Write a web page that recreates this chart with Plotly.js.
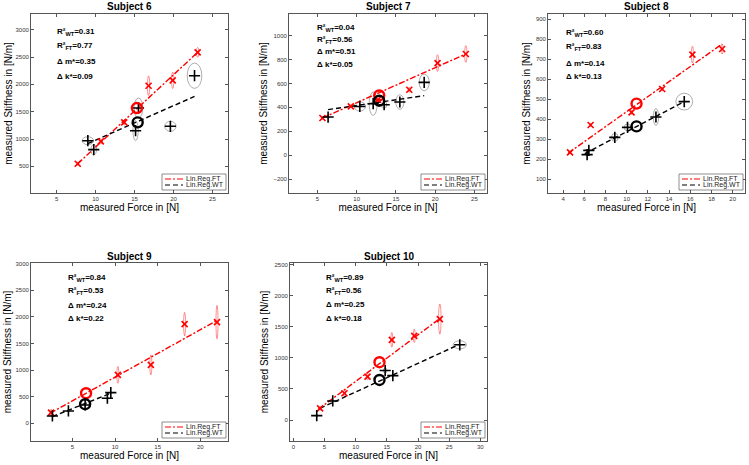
<!DOCTYPE html>
<html>
<head>
<meta charset="utf-8">
<script src="https://cdn.plot.ly/plotly-3.0.1.min.js"></script>
<style>
body { margin: 0; background: #fff; }
#chart { width: 749px; height: 465px; }
</style>
</head>
<body>
<div id="chart"></div>
<script>
var subjects = ['Subject 6', 'Subject 7', 'Subject 8', 'Subject 9', 'Subject 10'];

// FT measurements (red x) with ellipse half-widths
var ftX = [
    [7.7, 10.67, 13.67, 16.8, 19.9, 23.1],
    [5.64, 9.26, 12.7, 16.7, 20.3, 23.9],
    [4.66, 6.6, 10.46, 13.35, 16.2, 19.0],
    [2.49, 10.33, 14.2, 18.16, 21.96],
    [4.29, 8.2, 11.9, 15.8, 19.4, 23.5]
];
var ftY = [
    [548, 957, 1305, 1975, 2073, 2585],
    [311, 408, 464, 548, 771, 847],
    [233, 370, 433, 550, 722, 750],
    [201, 910, 1098, 1864, 1902],
    [188, 430, 699, 1290, 1355, 1624]
];
var ftSx = [
    [0.1, 0.12, 0.12, 0.15, 0.15, 0.15],
    [0.12, 0.12, 0.15, 0.15, 0.15, 0.15],
    [0.08, 0.08, 0.08, 0.08, 0.1, 0.1],
    [0.1, 0.12, 0.12, 0.12, 0.12],
    [0.15, 0.15, 0.15, 0.15, 0.15, 0.2]
];
var ftSy = [
    [30, 50, 50, 180, 150, 90],
    [10, 12, 20, 20, 70, 70],
    [8, 8, 10, 10, 42, 25],
    [63, 157, 188, 220, 314],
    [30, 54, 54, 118, 108, 242]
];

// WT measurements (black +) with ellipse half-widths
var wtX = [
    [9.0, 9.76, 15.13, 15.5, 19.6, 22.7],
    [6.36, 10.4, 12.1, 13.5, 15.5, 18.6],
    [6.27, 6.43, 8.88, 10.08, 12.76, 15.43],
    [2.65, 4.53, 6.49, 9.1, 9.5],
    [3.75, 6.32, 14.73, 15.96, 26.7]
];
var wtY = [
    [969, 805, 1152, 1567, 1232, 2158],
    [319, 408, 431, 422, 445, 609],
    [222, 243, 308, 358, 410, 487],
    [138, 232, 345, 471, 577],
    [70, 307, 796, 715, 1210]
];
var wtSx = [
    [0.73, 0.34, 0.34, 0.56, 0.73, 0.94],
    [0.2, 0.72, 0.51, 0.34, 0.51, 0.64],
    [0.1, 0.1, 0.31, 0.31, 0.25, 0.79],
    [0.1, 0.1, 0.1, 0.1, 0.1],
    [0.15, 0.15, 0.3, 0.15, 1.07]
];
var wtSy = [
    [73, 92, 183, 183, 92, 232],
    [10, 39, 98, 28, 61, 70],
    [8, 8, 20, 17, 42, 42],
    [20, 20, 20, 20, 20],
    [20, 20, 40, 20, 65]
];

// mean points (big circles)
var ftMeanX = [15.3, 12.87, 10.93, 6.6, 13.82];
var ftMeanY = [1567, 500, 477, 565, 930];
var wtMeanX = [15.4, 12.87, 10.93, 6.49, 13.82];
var wtMeanY = [1305, 456, 363, 358, 645];

// regression line end points
var ftLineX = [[7.7, 23.1], [5.64, 23.9], [4.5, 19.0], [2.38, 21.96], [4.0, 23.6]];
var ftLineY = [[548, 2585], [311, 847], [230, 775], [188, 1933], [172, 1640]];
var wtLineX = [[9.0, 22.7], [6.36, 18.6], [6.05, 15.43], [2.65, 9.5], [4.29, 26.7]];
var wtLineY = [[914, 1780], [381, 498], [227, 487], [126, 565], [188, 1220]];

// statistics text
var r2wt = ['0.31', '0.04', '0.60', '0.84', '0.89'];
var r2ft = ['0.77', '0.56', '0.83', '0.53', '0.56'];
var dm = ['0.35', '0.51', '0.14', '0.24', '0.25'];
var dk = ['0.09', '0.05', '0.13', '0.22', '0.18'];

// axis ranges and ticks
var xRanges = [[1.7, 27.0], [1.38, 26.6], [2.58, 21.16], [0.14, 23.25], [-0.54, 31.07]];
var yRanges = [[12, 3287], [-317, 1182], [30, 925], [-333, 3013], [-338, 2527]];
var xTicks = [[5, 10, 15, 20, 25], [5, 10, 15, 20, 25], [4, 6, 8, 10, 12, 14, 16, 18, 20], [5, 10, 15, 20], [0, 5, 10, 15, 20, 25, 30]];
var yTicks = [
    [500, 1000, 1500, 2000, 2500, 3000],
    [-200, 0, 200, 400, 600, 800, 1000],
    [100, 200, 300, 400, 500, 600, 700, 800, 900],
    [0, 500, 1000, 1500, 2000, 2500, 3000],
    [0, 500, 1000, 1500, 2000, 2500]
];
var legendNames = ['Lin.Reg.FT', 'Lin.Reg.WT'];

// layout boxes in pixels: left, right, top, bottom
var W = 749, H = 465;
var boxes = [[31, 228, 14, 193], [289, 487, 14, 193], [548, 745, 14, 193], [31, 228, 263, 441], [290, 487, 263, 441]];
var statX = [55, 315, 564, 66, 324];
var statY = [[32, 46, 61, 76], [28, 40, 52, 64], [33, 47, 63, 77], [278, 291, 305, 318], [278, 291, 304, 318]];
var yTitleStandoff = [1, 3, 3, 1.5, 3.5];

var FONT = 'Liberation Sans, Arial, sans-serif';
var RED = '#ff0000';
var FT_DASH = '6px,2px,2px,2px';
var WT_DASH = '5px,3px';

var data = [];
var layout = {
    width: W,
    height: H,
    margin: {l: 0, r: 0, t: 0, b: 0},
    paper_bgcolor: '#fff',
    plot_bgcolor: '#fff',
    font: {family: FONT, color: '#000'},
    showlegend: false,
    annotations: [],
    shapes: []
};

function px(x) { return x / W; }
function py(y) { return 1 - y / H; }

for (let i = 0; i < subjects.length; i++) {
    let n = i === 0 ? '' : String(i + 1);
    let xa = 'x' + n, ya = 'y' + n;
    let b = boxes[i];
    let pw = b[1] - b[0], ph = b[3] - b[2];

    let axisStyle = {
        showgrid: false,
        zeroline: false,
        showline: true,
        linecolor: '#555',
        linewidth: 0.8,
        mirror: 'ticks',
        ticks: 'inside',
        ticklen: 3,
        tickwidth: 0.7,
        tickcolor: '#555',
        tickfont: {size: 6, color: '#333', family: FONT}
    };
    layout['xaxis' + n] = Object.assign({}, axisStyle, {
        domain: [px(b[0]), px(b[1])],
        range: xRanges[i],
        tickvals: xTicks[i],
        anchor: ya,
        title: {text: 'measured Force in [N]', font: {size: 10, family: FONT, color: '#000'}, standoff: 2}
    });
    layout['yaxis' + n] = Object.assign({}, axisStyle, {
        domain: [py(b[3]), py(b[2])],
        range: yRanges[i],
        tickvals: yTicks[i],
        anchor: xa,
        title: {text: 'measured Stiffness in [N/m]', font: {size: 10, family: FONT, color: '#000'}, standoff: yTitleStandoff[i]}
    });

    // regression lines
    data.push({
        x: ftLineX[i], y: ftLineY[i], xaxis: xa, yaxis: ya,
        mode: 'lines', name: legendNames[0], hoverinfo: 'skip',
        line: {color: RED, width: 1.4, dash: FT_DASH}
    });
    data.push({
        x: wtLineX[i], y: wtLineY[i], xaxis: xa, yaxis: ya,
        mode: 'lines', name: legendNames[1], hoverinfo: 'skip',
        line: {color: '#000', width: 1.4, dash: WT_DASH}
    });

    // measurement points
    data.push({
        x: ftX[i], y: ftY[i], xaxis: xa, yaxis: ya,
        mode: 'markers', hoverinfo: 'skip',
        marker: {symbol: 'x-thin-open', size: 6, color: RED, line: {color: RED, width: 1.6}}
    });
    data.push({
        x: wtX[i], y: wtY[i], xaxis: xa, yaxis: ya,
        mode: 'markers', hoverinfo: 'skip',
        marker: {symbol: 'cross-thin-open', size: 8, color: '#000', line: {color: '#000', width: 1.6}}
    });

    // mean circles
    data.push({
        x: [ftMeanX[i]], y: [ftMeanY[i]], xaxis: xa, yaxis: ya,
        mode: 'markers', hoverinfo: 'skip',
        marker: {symbol: 'circle-open', size: 10, color: RED, line: {color: RED, width: 2.4}}
    });
    data.push({
        x: [wtMeanX[i]], y: [wtMeanY[i]], xaxis: xa, yaxis: ya,
        mode: 'markers', hoverinfo: 'skip',
        marker: {symbol: 'circle-open', size: 10, color: '#000', line: {color: '#000', width: 2.4}}
    });

    // ellipses
    for (let k = 0; k < ftX[i].length; k++) {
        layout.shapes.push({
            type: 'circle', xref: xa, yref: ya, layer: 'below',
            x0: ftX[i][k] - ftSx[i][k], x1: ftX[i][k] + ftSx[i][k],
            y0: ftY[i][k] - ftSy[i][k], y1: ftY[i][k] + ftSy[i][k],
            line: {color: 'rgba(255,0,0,0.55)', width: 0.8}
        });
    }
    for (let k = 0; k < wtX[i].length; k++) {
        layout.shapes.push({
            type: 'circle', xref: xa, yref: ya, layer: 'below',
            x0: wtX[i][k] - wtSx[i][k], x1: wtX[i][k] + wtSx[i][k],
            y0: wtY[i][k] - wtSy[i][k], y1: wtY[i][k] + wtSy[i][k],
            line: {color: '#777', width: 0.6}
        });
    }

    // legend box in the lower right corner of each axes (MATLAB style)
    let xd = xa + ' domain', yd = ya + ' domain';
    layout.shapes.push({
        type: 'rect', xref: xd, yref: yd,
        x0: 1 - 66 / pw, x1: 1 - 2 / pw, y0: 3 / ph, y1: 19 / ph,
        fillcolor: '#fff', line: {color: '#444', width: 0.6}
    });
    let rowY = [14 / ph, 8 / ph];
    let rowDash = [FT_DASH, WT_DASH];
    let rowColor = [RED, '#000'];
    for (let k = 0; k < 2; k++) {
        layout.shapes.push({
            type: 'line', xref: xd, yref: yd,
            x0: 1 - 63 / pw, x1: 1 - 45 / pw, y0: rowY[k], y1: rowY[k],
            line: {color: rowColor[k], width: 1.2, dash: rowDash[k]}
        });
        layout.annotations.push({
            text: legendNames[k], xref: xd, yref: yd,
            x: 1 - 44 / pw, y: rowY[k], xanchor: 'left', yanchor: 'middle',
            showarrow: false, font: {size: 7, family: FONT, color: '#222'}
        });
    }

    // subplot title
    let cx = px((b[0] + b[1]) / 2);
    layout.annotations.push({
        text: subjects[i], xref: 'paper', yref: 'paper',
        x: cx, y: py(b[2] - 7), xanchor: 'center', yanchor: 'middle',
        showarrow: false, font: {size: 10, family: FONT, weight: 'bold'}
    });

    // statistics
    let lines = [
        'R\u00b2<sub>WT</sub>=' + r2wt[i],
        'R\u00b2<sub>FT</sub>=' + r2ft[i],
        '\u0394 m*=' + dm[i],
        '\u0394 k*=' + dk[i]
    ];
    for (let k = 0; k < lines.length; k++) {
        layout.annotations.push({
            text: lines[k], xref: 'paper', yref: 'paper',
            x: px(statX[i]), y: py(statY[i][k]), xanchor: 'left', yanchor: 'middle',
            showarrow: false, font: {size: 8, family: FONT, weight: 'bold'}
        });
    }
}

Plotly.newPlot('chart', data, layout, {displayModeBar: false});
</script>
</body>
</html>
